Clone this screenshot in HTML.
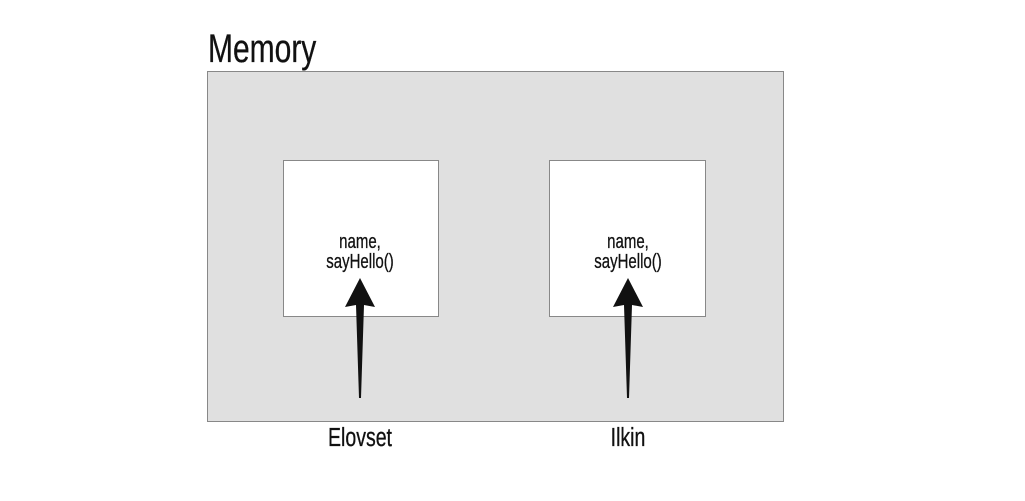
<!DOCTYPE html>
<html><head><style>
body{margin:0;width:1025px;height:496px;background:#fff;overflow:hidden}
svg text{font-family:"Liberation Sans Narrow","Liberation Sans",sans-serif;fill:#111;stroke:#111;stroke-width:0.3}
</style></head><body>
<svg width="1025" height="496" xmlns="http://www.w3.org/2000/svg">
<text x="208" y="62" font-size="40" transform="translate(208 0) scale(0.75 1) translate(-208 0)">Memory</text>
<rect x="207.5" y="71.5" width="576" height="350" fill="#e0e0e0" stroke="#888" stroke-width="1"/>
<rect x="283.5" y="160.5" width="155" height="156" fill="#fff" stroke="#888"/>
<rect x="549.5" y="160.5" width="156" height="156" fill="#fff" stroke="#888"/>
<g font-size="20" text-anchor="middle">
<text x="360" y="248" transform="translate(360 0) scale(0.75 1) translate(-360 0)">name,</text>
<text x="360" y="268" transform="translate(360 0) scale(0.75 1) translate(-360 0)">sayHello()</text>
<text x="628" y="248" transform="translate(628 0) scale(0.75 1) translate(-628 0)">name,</text>
<text x="628" y="268" transform="translate(628 0) scale(0.75 1) translate(-628 0)">sayHello()</text>
</g>
<polygon points="360,278 375,307 364,305 361,398 359,398 356,305 345,307" fill="#111"/>
<polygon points="628,278 643,307 632,305 629,398 627,398 624,305 613,307" fill="#111"/>
<g font-size="26" text-anchor="middle">
<text x="360" y="446" transform="translate(360 0) scale(0.75 1) translate(-360 0)">Elovset</text>
<text x="628" y="446" transform="translate(628 0) scale(0.75 1) translate(-628 0)">Ilkin</text>
</g>
</svg>
</body></html>
